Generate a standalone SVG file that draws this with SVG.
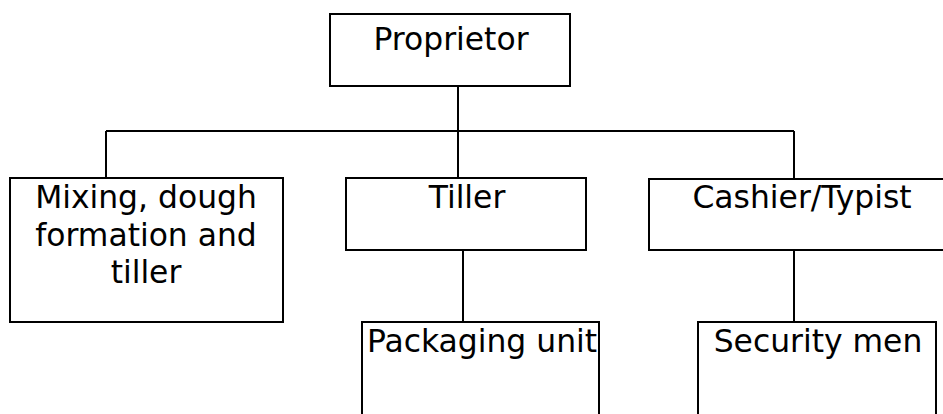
<svg xmlns="http://www.w3.org/2000/svg" width="943" height="414" viewBox="0 0 943 414">
<style>
.box{fill:#fff;stroke:#000;stroke-width:2}
.ln{fill:none;stroke:#000;stroke-width:2}
text{font-family:"DejaVu Sans",sans-serif;font-size:31.4px;fill:#000;text-anchor:middle}
</style>
<rect width="943" height="414" fill="#fff"/>
<g id="connectors">
<line class="ln" x1="458" y1="83" x2="458" y2="131"/>
<line class="ln" x1="106" y1="131" x2="794" y2="131"/>
<line class="ln" x1="106" y1="131" x2="106" y2="178"/>
<line class="ln" x1="458" y1="131" x2="458" y2="178"/>
<line class="ln" x1="794" y1="131" x2="794" y2="179"/>
<line class="ln" x1="463" y1="250" x2="463" y2="322"/>
<line class="ln" x1="794" y1="250" x2="794" y2="322"/>
</g>
<g id="proprietor">
<rect class="box" x="330" y="14" width="240" height="72"/>
<text x="451" y="50">Proprietor</text>
</g>
<g id="mixing">
<rect class="box" x="10" y="178" width="273" height="144"/>
<text x="146" y="208">Mixing, dough</text>
<text x="146" y="246">formation and</text>
<text x="146" y="283">tiller</text>
</g>
<g id="tiller">
<rect class="box" x="346" y="178" width="240" height="72"/>
<text x="467" y="208">Tiller</text>
</g>
<g id="cashier">
<rect class="box" x="649" y="179" width="306" height="71"/>
<text x="802" y="208">Cashier/Typist</text>
</g>
<g id="packaging">
<rect class="box" x="362" y="322" width="237" height="110"/>
<text x="482" y="352">Packaging unit</text>
</g>
<g id="security">
<rect class="box" x="698" y="322" width="238" height="110"/>
<text x="818" y="352">Security men</text>
</g>
</svg>
